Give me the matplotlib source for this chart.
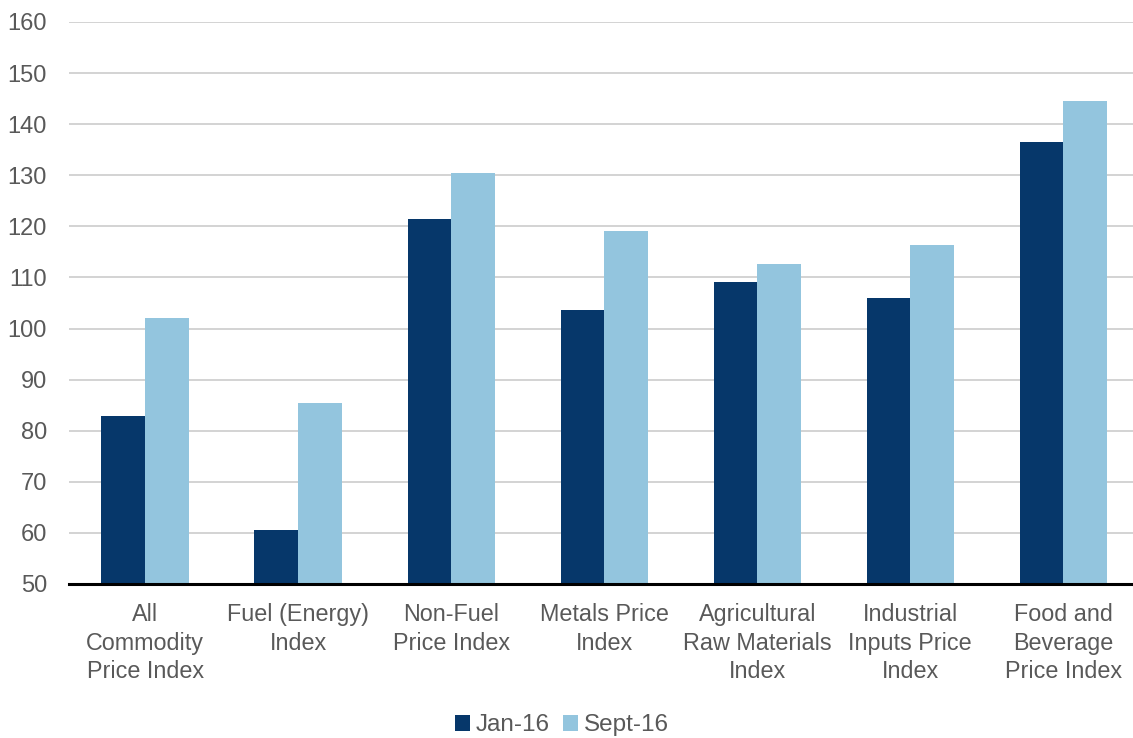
import numpy as np
import matplotlib.pyplot as plt

plt.rcParams['font.family'] = ['Liberation Sans', 'DejaVu Sans']

# Commodity price indices, Jan-16 vs Sept-16
categories = ['All\nCommodity\nPrice Index', 'Fuel (Energy)\nIndex', 'Non-Fuel\nPrice Index',
              'Metals Price\nIndex', 'Agricultural\nRaw Materials\nIndex',
              'Industrial\nInputs Price\nIndex', 'Food and\nBeverage\nPrice Index']
jan16 = [82.9, 60.5, 121.4, 103.7, 109.2, 106.0, 136.5]
sept16 = [102.1, 85.5, 130.4, 119.1, 112.7, 116.3, 144.5]

dark = '#06376A'
light = '#93C5DE'
grey = '#595959'

fig = plt.figure(figsize=(11.33, 7.38), dpi=100)
ax = fig.add_axes([0.0605, 0.2087, 0.9455, 0.7615])

x = np.arange(len(categories))
w = 0.285
ax.bar(x - w / 2, jan16, w, color=dark, label='Jan-16', zorder=3)
ax.bar(x + w / 2, sept16, w, color=light, label='Sept-16', zorder=3)

ax.set_xlim(-0.5, len(categories) - 0.5)
ax.set_ylim(50, 160)
ax.set_yticks(range(50, 161, 10))
ax.yaxis.grid(True, color='#D0D0D0', linewidth=1.3, zorder=0)
ax.set_axisbelow(True)

for side in ['top', 'right', 'left']:
    ax.spines[side].set_visible(False)
ax.spines['bottom'].set_color('black')
ax.spines['bottom'].set_linewidth(2.2)
ax.spines['bottom'].set_zorder(4)

ax.set_xticks(x)
ax.set_xticklabels(categories, fontsize=16.8, color=grey, linespacing=1.29)
ax.tick_params(axis='x', length=0, pad=14)
ax.tick_params(axis='y', length=0, pad=15.5, labelsize=17, labelcolor=grey)

fig.legend(*ax.get_legend_handles_labels(), loc='center', bbox_to_anchor=(0.496, 0.017),
           ncol=2, frameon=False, fontsize=17.5, labelcolor=grey, handlelength=0.6,
           handleheight=0.6, handletextpad=0.25, columnspacing=0.55,
           borderpad=0, borderaxespad=0)

fig.savefig('out.png', dpi=100)
